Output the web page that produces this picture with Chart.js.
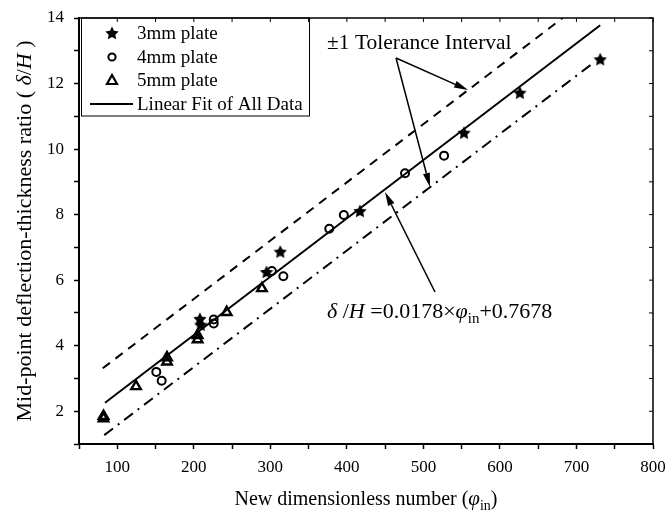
<!DOCTYPE html>
<html>
<head>
<meta charset="utf-8">
<script src="https://cdn.jsdelivr.net/npm/chart.js@4"></script>
<style>
  html, body { margin: 0; padding: 0; background: #fff; }
  #wrap { width: 667px; height: 518px; }
</style>
</head>
<body>
<div id="wrap"><canvas id="fitChart" width="667" height="518"></canvas></div>
<script>
// ── deflection data ──
const plate3X = [208, 209, 295, 313, 417, 553, 626, 731];
const plate3Y = [4.82, 4.64, 6.25, 6.87, 8.11, 10.50, 11.72, 12.74];
const plate4X = [151, 158, 226, 226, 302, 317, 377, 396, 476, 527];
const plate4Y = [3.20, 2.93, 4.80, 4.68, 6.28, 6.12, 7.57, 7.99, 9.26, 9.80];
const plate5X = [82, 82, 124.5, 165, 165, 205, 205, 243, 289];
const plate5Y = [1.85, 1.78, 2.76, 3.64, 3.51, 4.32, 4.19, 5.02, 5.75];

// fit line + tolerance band end points
const fitX = [84, 731];
const fitY = [2.26, 13.78];
const upperX = [81, 682];
const upperY = [3.31, 14.0];
const lowerX = [83, 722];
const lowerY = [1.27, 12.63];

const xTicks = { min: 50, max: 800, step: 50 };
const yTicks = { min: 1, max: 14, step: 1 };

const SERIF = '"Liberation Serif", "Times New Roman", serif';
const pts = (xs, ys) => xs.map((x, i) => ({ x: x, y: ys[i] }));

function starCanvas(size) {
  const c = document.createElement('canvas');
  c.width = c.height = size;
  const g = c.getContext('2d');
  g.fillStyle = '#000';
  g.beginPath();
  for (let i = 0; i < 10; i++) {
    const r = i % 2 ? size * 0.25 : size * 0.5;
    const a = -Math.PI / 2 + i * Math.PI / 5;
    const px = size / 2 + r * Math.cos(a), py = size / 2 + 0.6 + r * Math.sin(a);
    i ? g.lineTo(px, py) : g.moveTo(px, py);
  }
  g.closePath();
  g.fill();
  return c;
}
const star = starCanvas(14);

function runsWidth(ctx, runs) {
  let w = 0;
  runs.forEach(r => { ctx.font = r.font; w += ctx.measureText(r.t).width; });
  return w;
}
function drawRuns(ctx, runs, x, y) {
  runs.forEach(r => {
    ctx.font = r.font;
    ctx.fillText(r.t, x, y + (r.dy || 0));
    x += ctx.measureText(r.t).width;
  });
}
function arrow(ctx, x0, y0, x1, y1) {
  const a = Math.atan2(y1 - y0, x1 - x0), L = 14, W = 3.5;
  const bx = x1 - L * Math.cos(a), by = y1 - L * Math.sin(a);
  ctx.beginPath(); ctx.moveTo(x0, y0); ctx.lineTo(bx, by); ctx.stroke();
  ctx.beginPath();
  ctx.moveTo(x1, y1);
  ctx.lineTo(bx + W * Math.sin(a), by - W * Math.cos(a));
  ctx.lineTo(bx - W * Math.sin(a), by + W * Math.cos(a));
  ctx.closePath(); ctx.fill();
}

const overlay = {
  id: 'overlay',
  afterDraw(chart) {
    const { ctx, chartArea: a, scales: { x, y } } = chart;
    ctx.save();
    ctx.strokeStyle = '#000'; ctx.fillStyle = '#000';

    // top + right frame with inward ticks
    ctx.lineWidth = 1.5;
    ctx.beginPath();
    ctx.moveTo(a.left, a.top); ctx.lineTo(a.right, a.top); ctx.lineTo(a.right, a.bottom);
    ctx.stroke();
    ctx.lineWidth = 1;
    ctx.beginPath();
    x.ticks.forEach(t => { const p = x.getPixelForValue(t.value); ctx.moveTo(p, a.top); ctx.lineTo(p, a.top + 4); });
    y.ticks.forEach(t => { const p = y.getPixelForValue(t.value); ctx.moveTo(a.right, p); ctx.lineTo(a.right - 4, p); });
    ctx.stroke();

    // legend box
    ctx.lineWidth = 1;
    ctx.strokeRect(81.5, a.top, 228, 98);
    ctx.font = '19px ' + SERIF;
    ctx.textBaseline = 'middle';
    const ly = [33, 57, 80, 104];
    ['3mm plate', '4mm plate', '5mm plate', 'Linear Fit of All Data'].forEach((t, i) => ctx.fillText(t, 137, ly[i] + 1));
    ctx.drawImage(star, 112 - 7, ly[0] - 7);
    ctx.lineWidth = 2;
    ctx.beginPath(); ctx.arc(112, ly[1], 3.6, 0, Math.PI * 2); ctx.stroke();
    ctx.lineWidth = 2.2;
    ctx.beginPath(); ctx.moveTo(112, ly[2] - 5); ctx.lineTo(117, ly[2] + 4); ctx.lineTo(107, ly[2] + 4); ctx.closePath(); ctx.stroke();
    ctx.lineWidth = 2;
    ctx.beginPath(); ctx.moveTo(90, ly[3]); ctx.lineTo(133, ly[3]); ctx.stroke();

    // annotations
    ctx.textBaseline = 'alphabetic';
    ctx.font = '21.5px ' + SERIF;
    ctx.fillText('\u00B11 Tolerance Interval', 327, 49);
    ctx.lineWidth = 1.5;
    arrow(ctx, 396, 58, 468, 90);
    arrow(ctx, 396, 58, 430, 187);
    arrow(ctx, 435, 292, 385, 192);

    const it = 'italic 22px ' + SERIF, rm = '22px ' + SERIF, sub = '15px ' + SERIF;
    drawRuns(ctx, [
      { t: '\u03B4', font: it }, { t: ' /', font: rm }, { t: 'H', font: it },
      { t: ' =0.0178\u00D7', font: rm }, { t: '\u03C6', font: it },
      { t: 'in', font: sub, dy: 5 }, { t: '+0.7678', font: rm }
    ], 327, 318);

    // axis titles
    const xrm = '20px ' + SERIF, xit = 'italic 21px ' + SERIF, xsub = '14px ' + SERIF;
    const xt = [
      { t: 'New dimensionless number (', font: xrm }, { t: '\u03C6', font: xit },
      { t: 'in', font: xsub, dy: 5 }, { t: ')', font: xrm }
    ];
    drawRuns(ctx, xt, (a.left + a.right) / 2 - runsWidth(ctx, xt) / 2, 505);

    const yrm = '22px ' + SERIF, yit = 'italic 22px ' + SERIF;
    const yt = [
      { t: 'Mid-point deflection-thickness ratio ( ', font: yrm }, { t: '\u03B4', font: yit },
      { t: '/', font: yrm }, { t: 'H', font: yit }, { t: ' )', font: yrm }
    ];
    ctx.translate(31, (a.top + a.bottom) / 2);
    ctx.rotate(-Math.PI / 2);
    drawRuns(ctx, yt, -runsWidth(ctx, yt) / 2, 0);
    ctx.restore();
  }
};

const tickFont = { family: SERIF, size: 17 };

new Chart(document.getElementById('fitChart').getContext('2d'), {
  type: 'scatter',
  data: {
    datasets: [
      { label: '3mm plate', data: pts(plate3X, plate3Y), pointStyle: star, pointRadius: 7, pointHoverRadius: 7 },
      { label: '4mm plate', data: pts(plate4X, plate4Y), pointStyle: 'circle', pointRadius: 4, borderWidth: 2, borderColor: '#000', backgroundColor: 'rgba(0,0,0,0)' },
      { label: '5mm plate', data: pts(plate5X, plate5Y), pointStyle: 'triangle', pointRadius: 5.5, borderWidth: 2.4, borderColor: '#000', backgroundColor: 'rgba(0,0,0,0)' },
      { label: 'Linear Fit of All Data', data: pts(fitX, fitY), showLine: true, pointRadius: 0, borderColor: '#000', borderWidth: 2 },
      { label: 'upper', data: pts(upperX, upperY), showLine: true, pointRadius: 0, borderColor: '#000', borderWidth: 2, borderDash: [9, 7] },
      { label: 'lower', data: pts(lowerX, lowerY), showLine: true, pointRadius: 0, borderColor: '#000', borderWidth: 2, borderDash: [11, 6, 2, 6] }
    ]
  },
  options: {
    responsive: false, animation: false, devicePixelRatio: 1,
    layout: { padding: { top: 18, right: 14, left: 0, bottom: 0 } },
    plugins: { legend: { display: false }, tooltip: { enabled: false } },
    scales: {
      x: {
        type: 'linear', min: xTicks.min, max: xTicks.max,
        afterFit: s => { s.height = 74; s.paddingLeft = 0; s.paddingRight = 0; },
        ticks: { stepSize: xTicks.step, autoSkip: false, maxRotation: 0, padding: 8, color: '#000', font: tickFont, callback: v => v % 100 === 0 ? v : '' },
        grid: { drawOnChartArea: false, tickLength: 5, tickWidth: 1.5, tickColor: '#000' },
        border: { color: '#000', width: 2 }
      },
      y: {
        min: yTicks.min, max: yTicks.max,
        afterFit: s => { s.width = 79; s.paddingTop = 0; s.paddingBottom = 0; },
        ticks: { stepSize: yTicks.step, autoSkip: false, padding: 10, color: '#000', font: tickFont, callback: v => v % 2 === 0 ? v : '' },
        grid: { drawOnChartArea: false, tickLength: 5, tickWidth: 1.5, tickColor: '#000' },
        border: { color: '#000', width: 2 }
      }
    }
  },
  plugins: [overlay]
});
</script>
</body>
</html>
